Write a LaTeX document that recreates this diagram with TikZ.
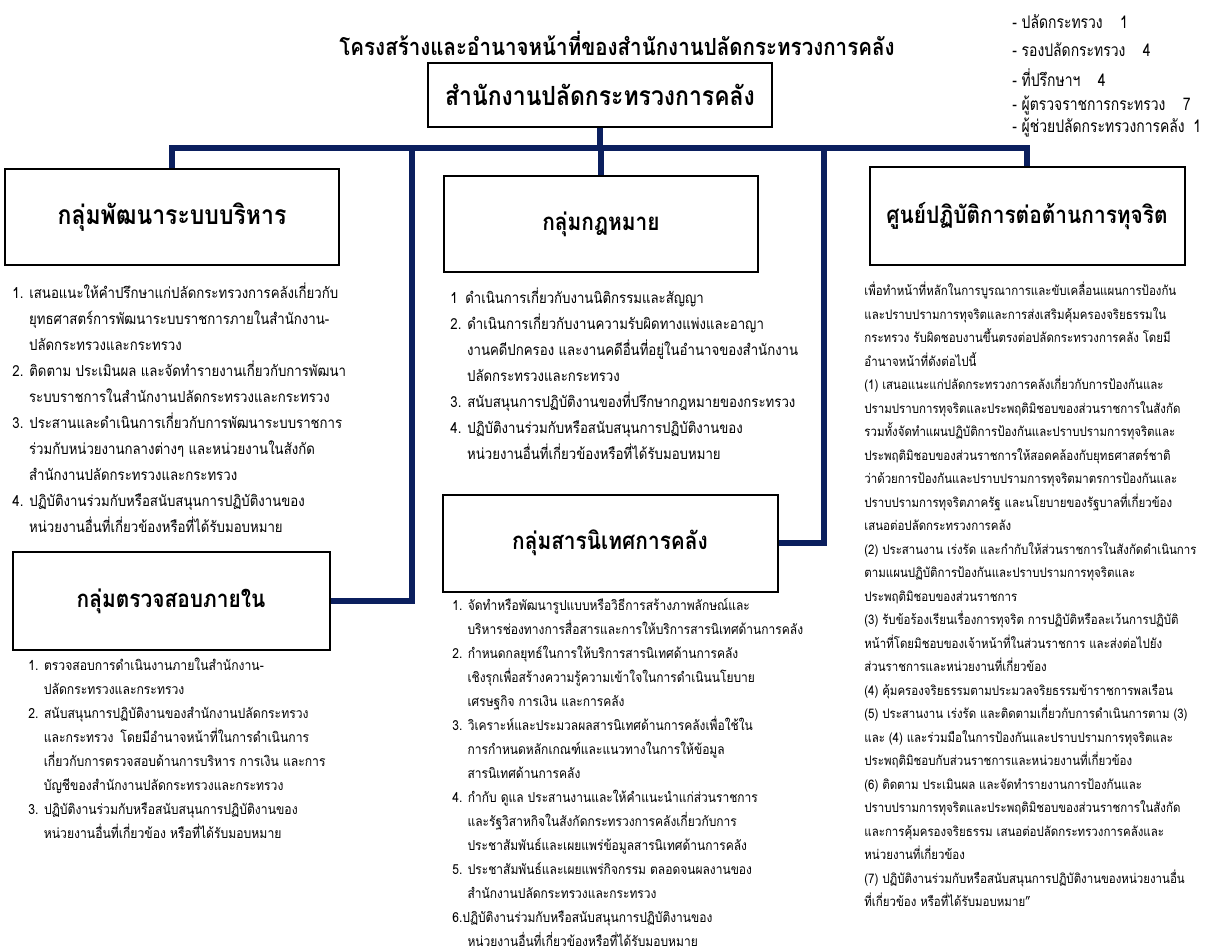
\documentclass[tikz,border=0pt]{standalone}
\usepackage{fontspec}
\setmainfont[Script=Thai,FakeStretch=0.87]{Loma}
\newfontfamily\narrowfont[Script=Thai,FakeStretch=0.8]{Loma}
\definecolor{navy}{HTML}{0B1F5E}
\newcommand{\indt}{\hspace*{1.1em}}
\tikzset{
  orgbox/.style={rectangle, draw=black, fill=white, line width=1pt, align=center,
                 inner sep=2pt, font=\fontsize{12}{14}\selectfont\bfseries},
  duty/.style={anchor=north west, align=left, inner sep=0pt, font=\fontsize{7.6}{13}\selectfont},
  link/.style={draw=navy, line width=2.6pt},
  staff/.style={anchor=west, inner sep=0pt, font=\narrowfont\fontsize{8.7}{10}\selectfont}
}

\begin{document}
\begin{tikzpicture}[x=0.5pt, y=-0.5pt]
 \useasboundingbox (0,0) rectangle (1209,952);
 \node[font=\fontsize{11.8}{14}\selectfont\bfseries] (title) at (617,43)
   {โครงสร้างและอำนาจหน้าที่ของสำนักงานปลัดกระทรวงการคลัง};
 \foreach \n/\t/\y in {1/{ปลัดกระทรวง\quad 1}/22, 2/{รองปลัดกระทรวง\quad 4}/50,
                       3/{ที่ปรึกษาฯ\quad 4}/78, 4/{ผู้ตรวจราชการกระทรวง\quad 7}/106,
                       5/{ผู้ช่วยปลัดกระทรวงการคลัง\enspace 1}/128}
   \node[staff] (s\n) at (1012,\y) {- \t};

 \node[orgbox, minimum width=172pt, minimum height=32pt, font=\fontsize{13.2}{15}\selectfont\bfseries]
   (top) at (600,95) {สำนักงานปลัดกระทรวงการคลัง};
 \node[orgbox, minimum width=167pt, minimum height=47.5pt, font=\fontsize{13.2}{15}\selectfont\bfseries]
   (dev) at (172,217) {กลุ่มพัฒนาระบบบริหาร};
 \node[orgbox, minimum width=157pt, minimum height=48pt] (law) at (601,224) {กลุ่มกฎหมาย};
 \node[orgbox, minimum width=157.5pt, minimum height=49pt] (ac) at (1027,216) {ศูนย์ปฏิบัติการต่อต้านการทุจริต};
 \node[orgbox, minimum width=158.5pt, minimum height=49pt] (audit) at (171,601) {กลุ่มตรวจสอบภายใน};
 \node[orgbox, minimum width=167.5pt, minimum height=48.5pt] (info) at (610,543) {กลุ่มสารนิเทศการคลัง};

 \coordinate (bus) at (600,148);
 \coordinate (bus2) at (412,148);
 \coordinate (bus3) at (824,148);
 \draw[link] (dev.north) |- (ac.north |- bus) -- (ac.north);
 \draw[link] (top.south) -- (bus);
 \draw[link] (law.north) -- (law.north |- bus);
 \draw[link] (audit.east) -| (bus2);
 \draw[link] (info.east) -| (bus3);

 \node[duty] (devtxt) at (12,282) {%
   1. เสนอแนะให้คำปรึกษาแก่ปลัดกระทรวงการคลังเกี่ยวกับ\\
   \indt ยุทธศาสตร์การพัฒนาระบบราชการภายในสำนักงาน-\\
   \indt ปลัดกระทรวงและกระทรวง\\
   2. ติดตาม ประเมินผล และจัดทำรายงานเกี่ยวกับการพัฒนา\\
   \indt ระบบราชการในสำนักงานปลัดกระทรวงและกระทรวง\\
   3. ประสานและดำเนินการเกี่ยวกับการพัฒนาระบบราชการ\\
   \indt ร่วมกับหน่วยงานกลางต่างๆ และหน่วยงานในสังกัด\\
   \indt สำนักงานปลัดกระทรวงและกระทรวง\\
   4. ปฏิบัติงานร่วมกับหรือสนับสนุนการปฏิบัติงานของ\\
   \indt หน่วยงานอื่นที่เกี่ยวข้องหรือที่ได้รับมอบหมาย};
 \node[duty] (lawtxt) at (450,287) {%
   1\enspace ดำเนินการเกี่ยวกับงานนิติกรรมและสัญญา\\
   2. ดำเนินการเกี่ยวกับงานความรับผิดทางแพ่งและอาญา\\
   \indt งานคดีปกครอง และงานคดีอื่นที่อยู่ในอำนาจของสำนักงาน\\
   \indt ปลัดกระทรวงและกระทรวง\\
   3. สนับสนุนการปฏิบัติงานของที่ปรึกษากฎหมายของกระทรวง\\
   4. ปฏิบัติงานร่วมกับหรือสนับสนุนการปฏิบัติงานของ\\
   \indt หน่วยงานอื่นที่เกี่ยวข้องหรือที่ได้รับมอบหมาย};
 \node[duty, font=\fontsize{7}{12}\selectfont] (audtxt) at (28,658) {%
   1. ตรวจสอบการดำเนินงานภายในสำนักงาน-\\
   \indt ปลัดกระทรวงและกระทรวง\\
   2. สนับสนุนการปฏิบัติงานของสำนักงานปลัดกระทรวง\\
   \indt และกระทรวง\enspace โดยมีอำนาจหน้าที่ในการดำเนินการ\\
   \indt เกี่ยวกับการตรวจสอบด้านการบริหาร การเงิน และการ\\
   \indt บัญชีของสำนักงานปลัดกระทรวงและกระทรวง\\
   3. ปฏิบัติงานร่วมกับหรือสนับสนุนการปฏิบัติงานของ\\
   \indt หน่วยงานอื่นที่เกี่ยวข้อง หรือที่ได้รับมอบหมาย};
 \node[duty, font=\fontsize{6.9}{12}\selectfont] (infotxt) at (452,598) {%
   1. จัดทำหรือพัฒนารูปแบบหรือวิธีการสร้างภาพลักษณ์และ\\
   \indt บริหารช่องทางการสื่อสารและการให้บริการสารนิเทศด้านการคลัง\\
   2. กำหนดกลยุทธ์ในการให้บริการสารนิเทศด้านการคลัง\\
   \indt เชิงรุกเพื่อสร้างความรู้ความเข้าใจในการดำเนินนโยบาย\\
   \indt เศรษฐกิจ การเงิน และการคลัง\\
   3. วิเคราะห์และประมวลผลสารนิเทศด้านการคลังเพื่อใช้ใน\\
   \indt การกำหนดหลักเกณฑ์และแนวทางในการให้ข้อมูล\\
   \indt สารนิเทศด้านการคลัง\\
   4. กำกับ ดูแล ประสานงานและให้คำแนะนำแก่ส่วนราชการ\\
   \indt และรัฐวิสาหกิจในสังกัดกระทรวงการคลังเกี่ยวกับการ\\
   \indt ประชาสัมพันธ์และเผยแพร่ข้อมูลสารนิเทศด้านการคลัง\\
   5. ประชาสัมพันธ์และเผยแพร่กิจกรรม ตลอดจนผลงานของ\\
   \indt สำนักงานปลัดกระทรวงและกระทรวง\\
   6.ปฏิบัติงานร่วมกับหรือสนับสนุนการปฏิบัติงานของ\\
   \indt หน่วยงานอื่นที่เกี่ยวข้องหรือที่ได้รับมอบหมาย};
 \node[duty, font=\fontsize{6.6}{11.75}\selectfont] (actxt) at (864,282) {%
   เพื่อทำหน้าที่หลักในการบูรณาการและขับเคลื่อนแผนการป้องกัน\\
   และปราบปรามการทุจริตและการส่งเสริมคุ้มครองจริยธรรมใน\\
   กระทรวง รับผิดชอบงานขึ้นตรงต่อปลัดกระทรวงการคลัง โดยมี\\
   อำนาจหน้าที่ดังต่อไปนี้\\
   (1) เสนอแนะแก่ปลัดกระทรวงการคลังเกี่ยวกับการป้องกันและ\\
   ปรามปราบการทุจริตและประพฤติมิชอบของส่วนราชการในสังกัด\\
   รวมทั้งจัดทำแผนปฏิบัติการป้องกันและปราบปรามการทุจริตและ\\
   ประพฤติมิชอบของส่วนราชการให้สอดคล้องกับยุทธศาสตร์ชาติ\\
   ว่าด้วยการป้องกันและปราบปรามการทุจริตมาตรการป้องกันและ\\
   ปราบปรามการทุจริตภาครัฐ และนโยบายของรัฐบาลที่เกี่ยวข้อง\\
   เสนอต่อปลัดกระทรวงการคลัง\\
   (2) ประสานงาน เร่งรัด และกำกับให้ส่วนราชการในสังกัดดำเนินการ\\
   ตามแผนปฏิบัติการป้องกันและปราบปรามการทุจริตและ\\
   ประพฤติมิชอบของส่วนราชการ\\
   (3) รับข้อร้องเรียนเรื่องการทุจริต การปฏิบัติหรือละเว้นการปฏิบัติ\\
   หน้าที่โดยมิชอบของเจ้าหน้าที่ในส่วนราชการ และส่งต่อไปยัง\\
   ส่วนราชการและหน่วยงานที่เกี่ยวข้อง\\
   (4) คุ้มครองจริยธรรมตามประมวลจริยธรรมข้าราชการพลเรือน\\
   (5) ประสานงาน เร่งรัด และติดตามเกี่ยวกับการดำเนินการตาม (3)\\
   และ (4) และร่วมมือในการป้องกันและปราบปรามการทุจริตและ\\
   ประพฤติมิชอบกับส่วนราชการและหน่วยงานที่เกี่ยวข้อง\\
   (6) ติดตาม ประเมินผล และจัดทำรายงานการป้องกันและ\\
   ปราบปรามการทุจริตและประพฤติมิชอบของส่วนราชการในสังกัด\\
   และการคุ้มครองจริยธรรม เสนอต่อปลัดกระทรวงการคลังและ\\
   หน่วยงานที่เกี่ยวข้อง\\
   (7) ปฏิบัติงานร่วมกับหรือสนับสนุนการปฏิบัติงานของหน่วยงานอื่น\\
   ที่เกี่ยวข้อง หรือที่ได้รับมอบหมาย"};
\end{tikzpicture}
\end{document}
